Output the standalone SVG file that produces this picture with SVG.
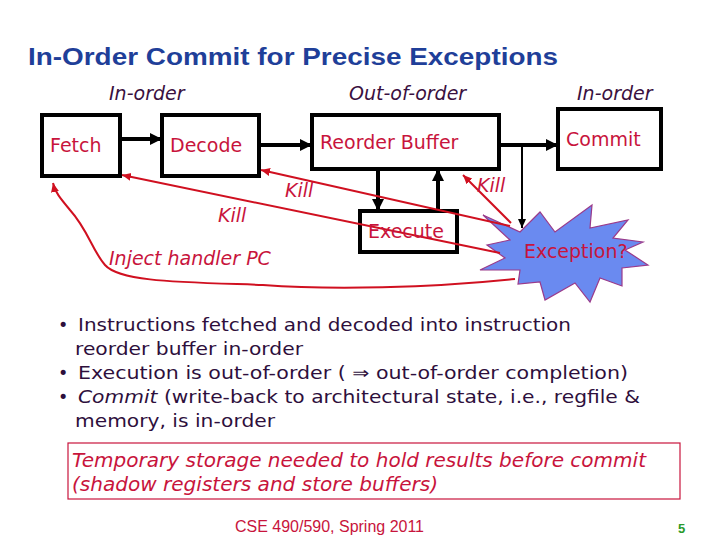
<svg xmlns="http://www.w3.org/2000/svg" width="720" height="540" viewBox="0 0 720 540">
<defs>
<marker id="ab" markerUnits="userSpaceOnUse" markerWidth="14" markerHeight="14" refX="12" refY="7" orient="auto"><path d="M0,1 L12,7 L0,13 Z" fill="#000"/></marker>
<marker id="abs" markerUnits="userSpaceOnUse" markerWidth="10" markerHeight="10" refX="9" refY="5" orient="auto"><path d="M0,1 L9,5 L0,9 Z" fill="#000"/></marker>
<marker id="ar" markerUnits="userSpaceOnUse" markerWidth="10" markerHeight="10" refX="9" refY="5" orient="auto"><path d="M0,1 L9,5 L0,9 Z" fill="#d01020"/></marker>
</defs>
<style>
.box{fill:#fff;stroke:#000;stroke-width:4}
.lbl{font-family:"DejaVu Sans",Verdana,sans-serif;font-size:19px;fill:#c8143c}
.it{font-family:"DejaVu Sans",Verdana,sans-serif;font-style:italic}
.hdr{font-size:19px;fill:#3a1040}
.kill{font-size:19px;fill:#c8143c}
.bl{font-family:"DejaVu Sans",Verdana,sans-serif;font-size:17.5px;fill:#2e0f3c}
.blk{stroke:#000;stroke-width:4;fill:none}
.red{stroke:#d01020;stroke-width:2;fill:none}
</style>
<rect width="720" height="540" fill="#fff"/>
<text x="28" y="65" font-family="Liberation Sans,Arial,sans-serif" font-weight="bold" font-size="24" fill="#1f3f99" textLength="530" lengthAdjust="spacingAndGlyphs">In-Order Commit for Precise Exceptions</text>
<text class="it hdr" x="109" y="100">In-order</text>
<text class="it hdr" x="349" y="100">Out-of-order</text>
<text class="it hdr" x="577" y="100">In-order</text>
<g id="fetch"><rect class="box" x="42" y="115" width="78" height="61"/><text class="lbl" x="50" y="152">Fetch</text></g>
<g id="decode"><rect class="box" x="162" y="115" width="97" height="61"/><text class="lbl" x="170" y="152">Decode</text></g>
<g id="rob"><rect class="box" x="312" y="115" width="187" height="54"/><text class="lbl" x="320" y="149">Reorder Buffer</text></g>
<g id="commit"><rect class="box" x="558" y="109" width="103" height="60"/><text class="lbl" x="566" y="146">Commit</text></g>
<g id="execute"><rect class="box" x="360" y="211" width="97" height="41"/></g>
<g id="exception"><polygon points="483,215 520,232 540,212 555,232 592,205 590,228 628,220 613,238 643,242 625,250 648,265 622,268 622,286 600,278 590,302 575,283 545,300 540,282 518,284 520,270 480,270 505,258 487,245 510,240" fill="#6a8af0" stroke="#9a3a8a" stroke-width="1.2"/></g>
<g id="connectors">
<line class="blk" x1="120" y1="139" x2="162" y2="139" marker-end="url(#ab)"/>
<line class="blk" x1="259" y1="145" x2="312" y2="145" marker-end="url(#ab)"/>
<line class="blk" x1="499" y1="145" x2="558" y2="145" marker-end="url(#ab)"/>
<line class="blk" x1="378" y1="169" x2="378" y2="211" marker-end="url(#ab)"/>
<line class="blk" x1="438" y1="211" x2="438" y2="169" marker-end="url(#ab)"/>
<line stroke="#000" stroke-width="2" x1="522" y1="145" x2="522" y2="228" marker-end="url(#abs)"/>
<line class="red" x1="510" y1="226" x2="261" y2="170" marker-end="url(#ar)"/>
<line class="red" x1="500" y1="253" x2="122" y2="175" marker-end="url(#ar)"/>
<line class="red" x1="511" y1="223" x2="463" y2="175" marker-end="url(#ar)"/>
<path class="red" d="M515,279 C430,288 330,290 263,285 C180,282 120,282 105,265 C92,250 88,230 70,210 C60,198 55,192 53,183" marker-end="url(#ar)"/>
</g>
<text class="lbl" x="368" y="238">Execute</text>
<text class="lbl" x="524" y="258">Exception?</text>
<text class="it kill" x="285" y="197">Kill</text>
<text class="it kill" x="218" y="222">Kill</text>
<text class="it kill" x="477" y="192">Kill</text>
<text class="it kill" x="109" y="265">Inject handler PC</text>
<text class="bl" x="58" y="331">•</text>
<text class="bl" x="78" y="331" textLength="493" lengthAdjust="spacingAndGlyphs">Instructions fetched and decoded into instruction</text>
<text class="bl" x="75" y="355" textLength="228" lengthAdjust="spacingAndGlyphs">reorder buffer in-order</text>
<text class="bl" x="58" y="379">•</text>
<text class="bl" x="78" y="379" textLength="550" lengthAdjust="spacingAndGlyphs">Execution is out-of-order ( ⇒ out-of-order completion)</text>
<text class="bl" x="58" y="403">•</text>
<text class="bl" x="78" y="403" textLength="562" lengthAdjust="spacingAndGlyphs"><tspan font-style="italic">Commit</tspan> (write-back to architectural state, i.e., regfile &amp;</text>
<text class="bl" x="75" y="427" textLength="200" lengthAdjust="spacingAndGlyphs">memory, is in-order</text>
<g id="note"><rect x="68" y="443" width="612" height="56" fill="#fff" stroke="#c8143c" stroke-width="1.2"/>
<text class="it" x="72" y="467" font-size="19" fill="#c8143c" textLength="574" lengthAdjust="spacingAndGlyphs">Temporary storage needed to hold results before commit</text>
<text class="it" x="72" y="491" font-size="19" fill="#c8143c" textLength="366" lengthAdjust="spacingAndGlyphs">(shadow registers and store buffers)</text></g>
<text x="235" y="532" font-family="Liberation Sans,Arial,sans-serif" font-size="16" fill="#c8143c" textLength="189" lengthAdjust="spacingAndGlyphs">CSE 490/590, Spring 2011</text>
<text x="678" y="533" font-family="Liberation Sans,Arial,sans-serif" font-weight="bold" font-size="13" fill="#2a9a2a">5</text>
</svg>
